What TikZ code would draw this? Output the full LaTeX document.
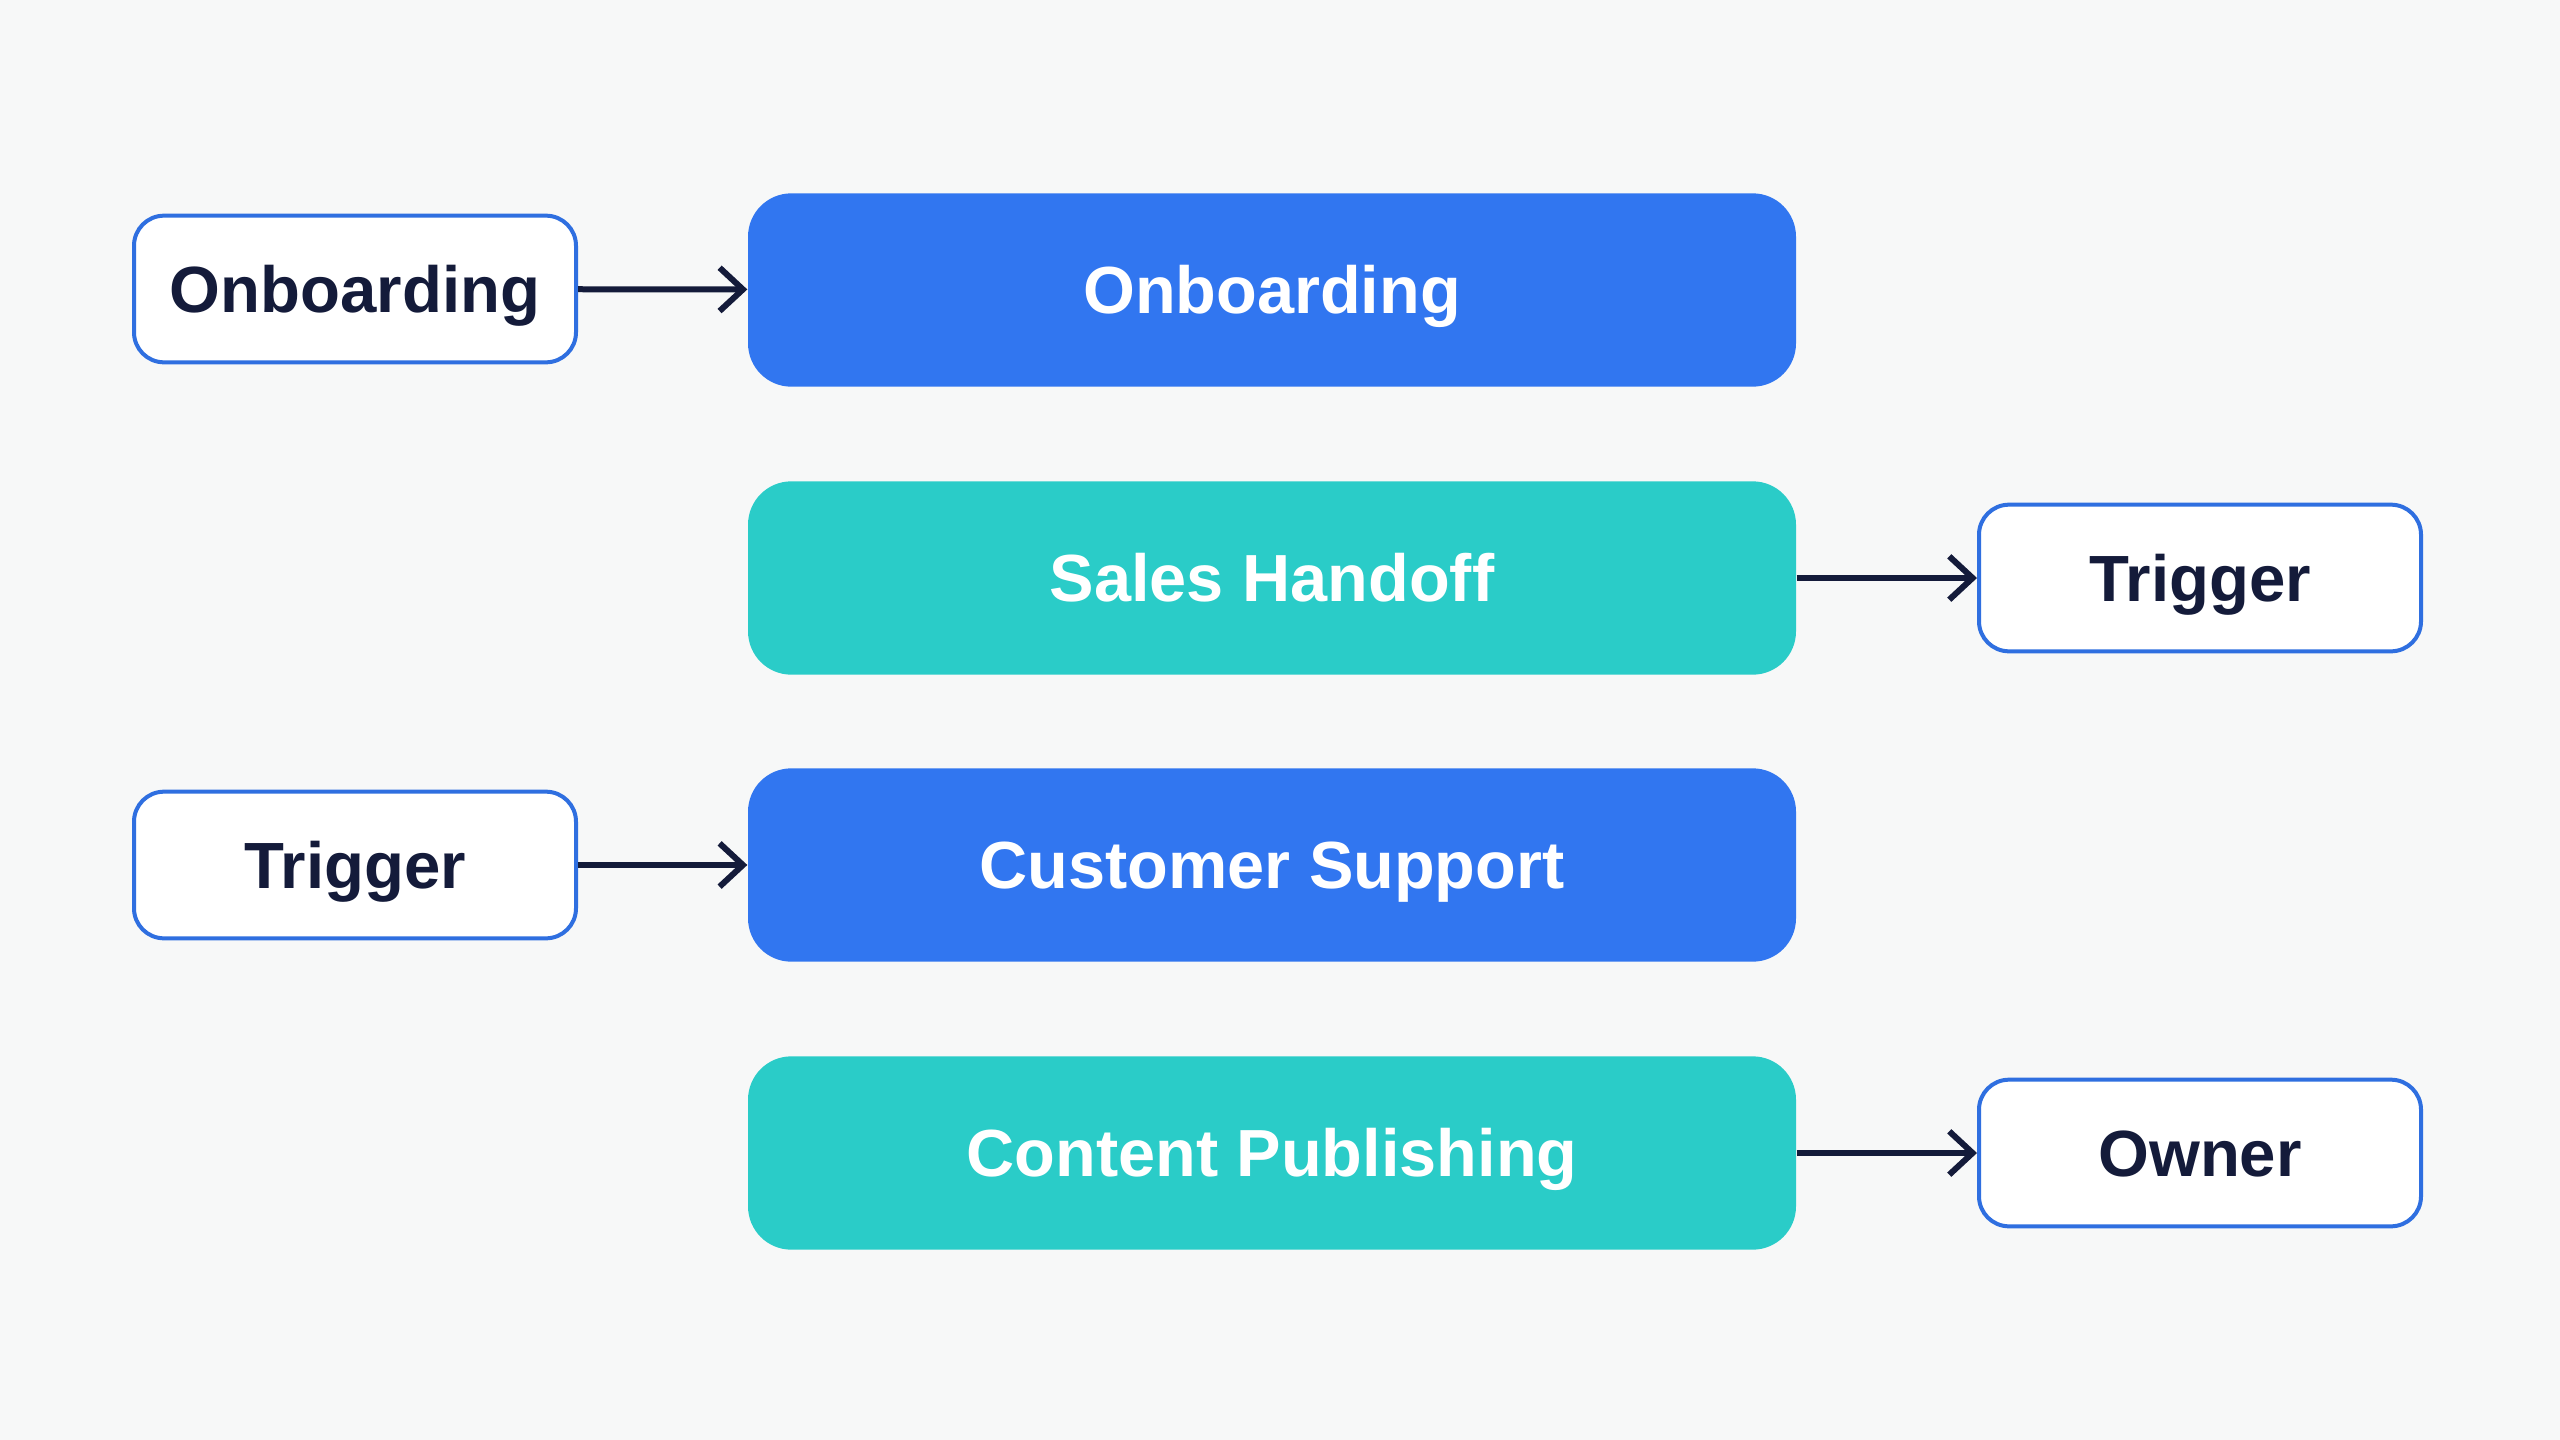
\documentclass[tikz,border=0pt]{standalone}
\usepackage{fontspec}
\setmainfont{Liberation Sans}
\usetikzlibrary{arrows.meta}
\definecolor{bgc}{HTML}{F7F8F8}
\definecolor{blueb}{HTML}{3176F0}
\definecolor{tealb}{HTML}{2ACCC8}
\definecolor{navy}{HTML}{141B3A}
\definecolor{edgeb}{HTML}{2F6FE0}
\tikzset{
  mainbox/.style={rounded corners=13pt, minimum width=314.4pt, minimum height=58pt, text=white, font=\fontsize{20}{24}\selectfont\bfseries, inner sep=0pt, text height=14.3pt, text depth=0pt},
  bluebox/.style={mainbox, fill=blueb},
  tealbox/.style={mainbox, fill=tealb},
  tagbox/.style={rounded corners=9pt, draw=edgeb, line width=1.2pt, fill=white, minimum width=132.6pt, minimum height=44pt, text=navy, font=\fontsize{19.6}{24}\selectfont\bfseries, inner sep=0pt, text height=14pt, text depth=0pt},
  conn/.style={draw=navy, line width=1.8pt, -{Straight Barb[length=7pt, width=13pt, line width=1.8pt]}}
}
\begin{document}
\begin{tikzpicture}[x=0.3pt, y=-0.3pt]
\fill[bgc] (0,0) rectangle (2560,1440);
\useasboundingbox (0,0) rectangle (2560,1440);
\node[bluebox] (m1) at (1272,290) {Onboarding};
\node[tealbox] (m2) at (1272,578) {Sales Handoff};
\node[bluebox] (m3) at (1272,865) {Customer Support};
\node[tealbox] (m4) at (1272,1153) {Content Publishing};
\node[tagbox] (l1) at (355,289) {Onboarding};
\node[tagbox] (r2) at (2200,578) {Trigger};
\node[tagbox] (l3) at (355,865) {Trigger};
\node[tagbox] (r4) at (2200,1153) {Owner};
\draw[conn] (l1) -- (m1);
\draw[conn] (m2) -- (r2);
\draw[conn] (l3) -- (m3);
\draw[conn] (m4) -- (r4);
\end{tikzpicture}
\end{document}
